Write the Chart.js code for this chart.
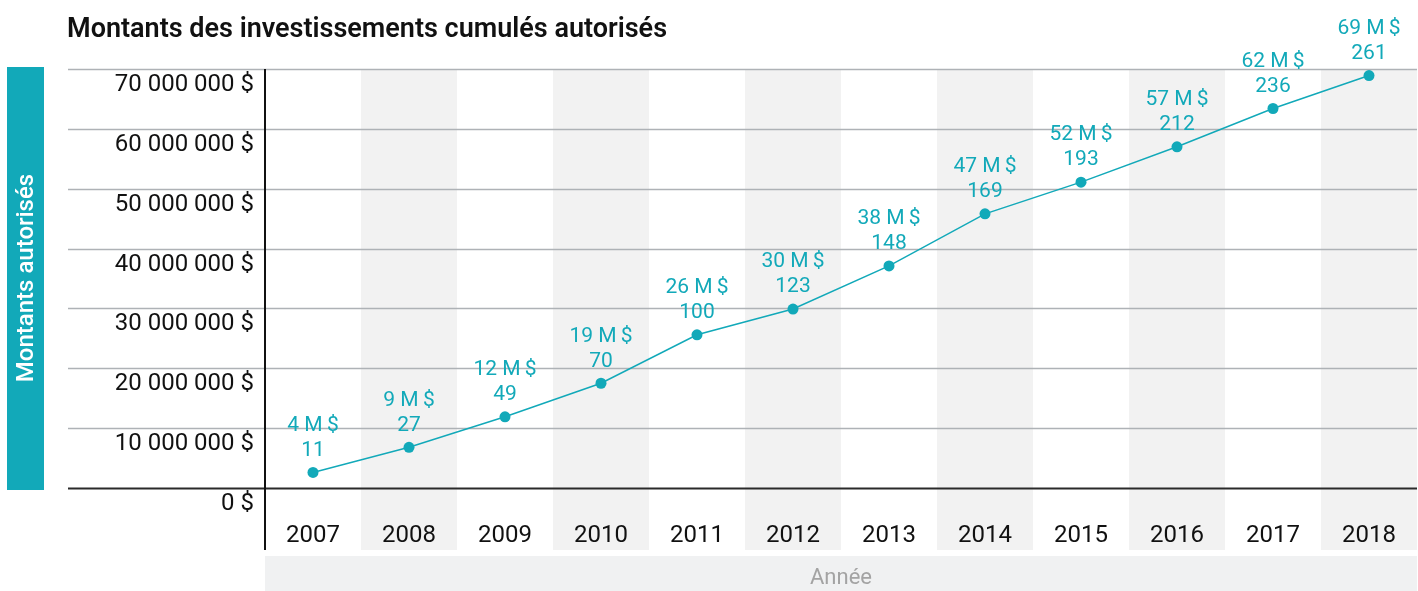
<!DOCTYPE html>
<html>
<head>
<meta charset="utf-8">
<script src="https://cdn.jsdelivr.net/npm/chart.js@4"></script>
<style>
  body { margin: 0; background: #fff; }
  canvas { display: block; }
</style>
</head>
<body>
<canvas id="myChart" width="1418" height="591"></canvas>
<script>
const ctx = document.getElementById('myChart');

// values
const years = ['2007','2008','2009','2010','2011','2012','2013','2014','2015','2016','2017','2018'];
const montants = [2.6e6, 6.8e6, 11.9e6, 17.5e6, 25.6e6, 29.9e6, 37.1e6, 45.8e6, 51.1e6, 57.0e6, 63.4e6, 68.9e6];
const etiquettesMontant = ['4','9','12','19','26','30','38','47','52','57','62','69'];
const nombreProjets = ['11','27','49','70','100','123','148','169','193','212','236','261'];
const yTicks = [0, 10e6, 20e6, 30e6, 40e6, 50e6, 60e6, 70e6];

const teal = '#12a9b9';
const police = 'Roboto, "Noto Sans", sans-serif';

function formatDollars(v) {
  return Math.round(v).toString().replace(/\B(?=(\d{3})+(?!\d))/g, ' ') + ' $';
}

const decor = {
  id: 'decor',
  beforeDraw(chart) {
    const c = chart.ctx;
    const x = chart.scales.x;
    const y = chart.scales.y;
    const area = chart.chartArea;
    const pas = x.getPixelForValue(1) - x.getPixelForValue(0);
    c.save();
    // colonnes grises alternées
    c.fillStyle = '#f2f2f2';
    years.forEach((yr, i) => {
      if (i % 2 == 1) {
        const cx = x.getPixelForValue(i);
        c.fillRect(cx - pas / 2, area.top, pas, 550 - area.top);
      }
    });
    // lignes de grille
    yTicks.forEach(v => {
      const py = Math.round(y.getPixelForValue(v)) + 0.5;
      c.beginPath();
      c.lineWidth = v == 0 ? 2 : 1.5;
      c.strokeStyle = v == 0 ? '#2a2a2a' : '#aeb2b6';
      c.moveTo(68, py);
      c.lineTo(area.right, py);
      c.stroke();
    });
    // axe vertical
    c.beginPath();
    c.lineWidth = 2;
    c.strokeStyle = '#111';
    c.moveTo(area.left, area.top);
    c.lineTo(area.left, 550);
    c.stroke();

    // titre
    c.fillStyle = '#111';
    c.font = '600 27px ' + police;
    c.textBaseline = 'middle';
    c.textAlign = 'left';
    c.fillText('Montants des investissements cumulés autorisés', 67, 30);

    // boite titre axe y
    c.fillStyle = teal;
    c.fillRect(7, 67, 37, 423);
    c.save();
    c.translate(26, 278);
    c.rotate(-Math.PI / 2);
    c.fillStyle = '#fff';
    c.font = '500 24px ' + police;
    c.textAlign = 'center';
    c.fillText('Montants autorisés', 0, 1);
    c.restore();

    // boite titre axe x
    c.fillStyle = '#f0f1f2';
    c.fillRect(area.left, 556, area.right - area.left, 35);
    c.fillStyle = '#a3a3a3';
    c.font = '22px ' + police;
    c.textAlign = 'center';
    c.fillText('Année', (area.left + area.right) / 2, 578);
    c.restore();
  },
  afterDatasetsDraw(chart) {
    const c = chart.ctx;
    const pts = chart.getDatasetMeta(0).data;
    c.save();
    c.fillStyle = teal;
    c.font = '21px ' + police;
    c.textAlign = 'center';
    c.textBaseline = 'middle';
    pts.forEach((p, i) => {
      c.fillText(etiquettesMontant[i] + ' M\u2009$', p.x, p.y - 47);
      c.fillText(nombreProjets[i], p.x, p.y - 22);
    });
    c.restore();
  }
};

new Chart(ctx, {
  type: 'line',
  data: {
    labels: years,
    datasets: [{
      data: montants,
      borderColor: teal,
      backgroundColor: teal,
      pointBackgroundColor: teal,
      pointBorderWidth: 0,
      pointRadius: 5.5,
      borderWidth: 1.5,
      tension: 0
    }]
  },
  options: {
    responsive: false,
    animation: false,
    layout: { autoPadding: false, padding: { top: 69, right: 1, left: 0, bottom: 0 } },
    plugins: {
      legend: { display: false },
      tooltip: { enabled: false }
    },
    scales: {
      x: {
        offset: true,
        grid: { display: true, drawOnChartArea: false, drawTicks: true, tickLength: 34, color: 'rgba(0,0,0,0)' },
        border: { display: false },
        ticks: { color: '#111', font: { family: police, size: 24 }, padding: 0, maxRotation: 0 },
        afterFit(scale) {
          scale.height = 103;
          scale.paddingLeft = 0;
          scale.paddingRight = 0;
        }
      },
      y: {
        min: 0,
        max: 70e6,
        grid: { display: false, drawTicks: false },
        border: { display: false },
        ticks: {
          stepSize: 10e6,
          color: '#111',
          font: { family: police, size: 24 },
          padding: 11,
          labelOffset: 16,
          callback: (v) => formatDollars(v)
        },
        afterFit(scale) { scale.width = 265; }
      }
    }
  },
  plugins: [decor]
});
</script>
</body>
</html>
